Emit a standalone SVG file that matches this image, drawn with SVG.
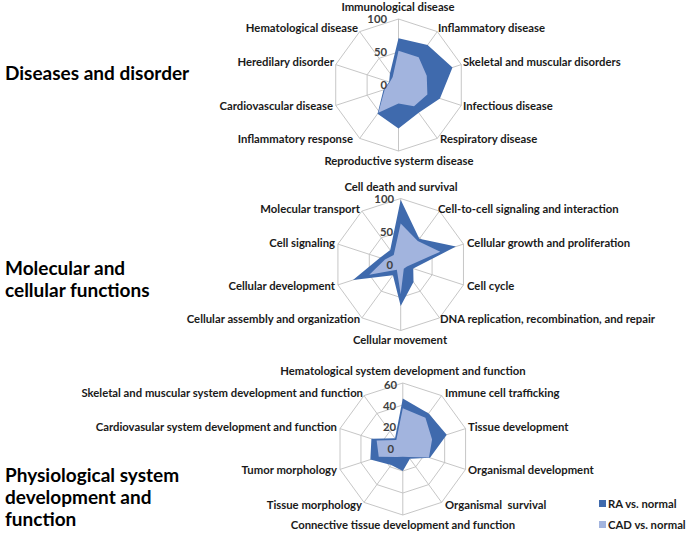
<svg xmlns="http://www.w3.org/2000/svg" xmlns:xlink="http://www.w3.org/1999/xlink" width="689" height="540" viewBox="0 0 689 540">
<style>
.bg{fill:#ffffff}
.grid{fill:none;stroke:#bfbfbf;stroke-width:0.9}
.ra{fill:#3f6aad;stroke:none}
.cad{fill:#a2b4de;stroke:none}
.lbl{font-family:Lato,"Liberation Sans",sans-serif;font-size:11.3px;font-weight:bold;fill:#1a1a1a}
.tick{font-family:Lato,"Liberation Sans",sans-serif;font-size:11.3px;font-weight:bold;fill:#404040;text-anchor:end}
.title{font-family:Lato,"Liberation Sans",sans-serif;font-size:19px;font-weight:bold;fill:#000000}
.s{text-anchor:start}
.e{text-anchor:end}
.m{text-anchor:middle}
</style>
<defs>
<g id="web">
<polygon points="0,-66 38.8,-53.39 62.77,-20.4 62.77,20.4 38.8,53.39 0,66 -38.8,53.39 -62.77,20.4 -62.77,-20.4 -38.8,-53.39"/>
<path d="M0,0L0,-66M0,0L38.8,-53.39M0,0L62.77,-20.4M0,0L62.77,20.4M0,0L38.8,53.39M0,0L0,66M0,0L-38.8,53.39M0,0L-62.77,20.4M0,0L-62.77,-20.4M0,0L-38.8,-53.39"/>
</g>
<polygon id="ring50" points="0,-33 19.4,-26.7 31.39,-10.2 31.39,10.2 19.4,26.7 0,33 -19.4,26.7 -31.39,10.2 -31.39,-10.2 -19.4,-26.7"/>
<polygon id="ring33" points="0,-22 12.93,-17.8 20.92,-6.8 20.92,6.8 12.93,17.8 0,22 -12.93,17.8 -20.92,6.8 -20.92,-6.8 -12.93,-17.8"/>
<polygon id="ring67" points="0,-44 25.86,-35.6 41.85,-13.6 41.85,13.6 25.86,35.6 0,44 -25.86,35.6 -41.85,13.6 -41.85,-13.6 -25.86,-35.6"/>
</defs>
<rect class="bg" x="0" y="0" width="689" height="540"/>

<g id="titles">
<text class="title" x="5" y="80">Diseases and disorder</text>
<text class="title" x="5" y="275">Molecular and</text>
<text class="title" x="5" y="297">cellular functions</text>
<text class="title" x="5" y="482">Physiological system</text>
<text class="title" x="5" y="504">development and</text>
<text class="title" x="5" y="526">function</text>
</g>

<g id="chart-diseases">
<g transform="translate(398.5,85)">
<g class="grid"><use xlink:href="#web"/><use xlink:href="#ring50"/></g>
<polygon class="ra" points="0,-46.86 29.1,-40.05 53.98,-17.54 41.43,13.46 20.17,27.77 0,43.56 -20.95,28.83 -15.07,4.89 -9.42,-3.06 -8.53,-11.75"/>
<polygon class="cad" points="0,-34.32 20.17,-27.77 28.25,-9.18 28.88,9.38 15.52,21.36 0,18.48 -20.17,27.77 -13.81,4.49 -8.79,-2.86 -5.82,-8.01"/>
</g>
<text class="tick" x="387" y="23">100</text>
<text class="tick" x="387" y="56">50</text>
<text class="tick" x="387" y="89">0</text>
<text class="lbl m" x="398" y="11">Immunological disease</text>
<text class="lbl e" x="358" y="32">Hematological disease</text>
<text class="lbl s" x="438" y="32">Inflammatory disease</text>
<text class="lbl e" x="334" y="66">Heredilary disorder</text>
<text class="lbl s" x="463" y="66">Skeletal and muscular disorders</text>
<text class="lbl e" x="333" y="110">Cardiovascular disease</text>
<text class="lbl s" x="463" y="110">Infectious disease</text>
<text class="lbl e" x="353" y="143">Inflammatory response</text>
<text class="lbl s" x="440" y="143">Respiratory disease</text>
<text class="lbl m" x="399" y="165">Reproductive systerm disease</text>
</g>

<g id="chart-molecular">
<g transform="translate(400.7,264.5)">
<g class="grid"><use xlink:href="#web"/><use xlink:href="#ring50"/></g>
<polygon class="ra" points="0,-64.68 18.62,-25.63 55.24,-17.95 12.55,4.08 12.8,17.62 0,41.58 -7.76,10.68 -47.71,15.5 -20.71,-6.73 -10.47,-14.42"/>
<polygon class="cad" points="0,-40.92 17.07,-23.49 39.55,-12.85 6.28,2.04 3.1,4.27 0,29.7 -3.88,5.34 -31.39,10.2 -15.69,-5.1 -6.98,-9.61"/>
</g>
<text class="tick" x="394" y="203">100</text>
<text class="tick" x="393" y="236">50</text>
<text class="tick" x="393" y="269">0</text>
<text class="lbl m" x="401" y="191">Cell death and survival</text>
<text class="lbl e" x="360" y="213">Molecular transport</text>
<text class="lbl s" x="438" y="213">Cell-to-cell signaling and interaction</text>
<text class="lbl e" x="335" y="247">Cell signaling</text>
<text class="lbl s" x="467" y="247">Cellular growth and proliferation</text>
<text class="lbl e" x="335" y="290">Cellular development</text>
<text class="lbl s" x="467" y="290">Cell cycle</text>
<text class="lbl e" x="360" y="323">Cellular assembly and organization</text>
<text class="lbl s" x="440" y="323">DNA replication, recombination, and repair</text>
<text class="lbl m" x="400" y="344">Cellular movement</text>
</g>

<g id="chart-physiological">
<g transform="translate(402.8,449)">
<g class="grid"><use xlink:href="#web"/><use xlink:href="#ring33"/><use xlink:href="#ring67"/></g>
<polygon class="ra" points="0,-50.6 25.86,-35.6 43.94,-14.28 27.2,8.84 7.11,9.79 0,22 -11.64,16.02 -32.43,10.54 -31.39,-10.2 -7.76,-10.68"/>
<polygon class="cad" points="0,-40.7 22.63,-31.15 29.29,-9.52 26.16,8.5 5.82,8.01 0,7.7 -5.82,8.01 -24.06,7.82 -26.16,-8.5 -6.47,-8.9"/>
</g>
<text class="tick" x="397" y="388.5">60</text>
<text class="tick" x="396" y="409.5">40</text>
<text class="tick" x="396" y="431">20</text>
<text class="tick" x="394" y="453">0</text>
<text class="lbl m" x="403" y="375">Hematological system development and function</text>
<text class="lbl e" x="363" y="397">Skeletal and muscular system development and function</text>
<text class="lbl s" x="445" y="397">Immune cell trafficking</text>
<text class="lbl e" x="337" y="431">Cardiovasular system development and function</text>
<text class="lbl s" x="468" y="431">Tissue development</text>
<text class="lbl e" x="337" y="474">Tumor morphology</text>
<text class="lbl s" x="468" y="474">Organismal development</text>
<text class="lbl e" x="362" y="509">Tissue morphology</text>
<text class="lbl s" x="445" y="509" style="white-space:pre">Organismal  survival</text>
<text class="lbl m" x="403" y="529">Connective tissue development and function</text>
</g>

<g id="legend">
<rect class="ra" x="599" y="500" width="7" height="7"/>
<text class="lbl s" x="608" y="508">RA vs. normal</text>
<rect class="cad" x="599" y="521" width="7" height="7"/>
<text class="lbl s" x="608" y="529">CAD vs. normal</text>
</g>
</svg>
